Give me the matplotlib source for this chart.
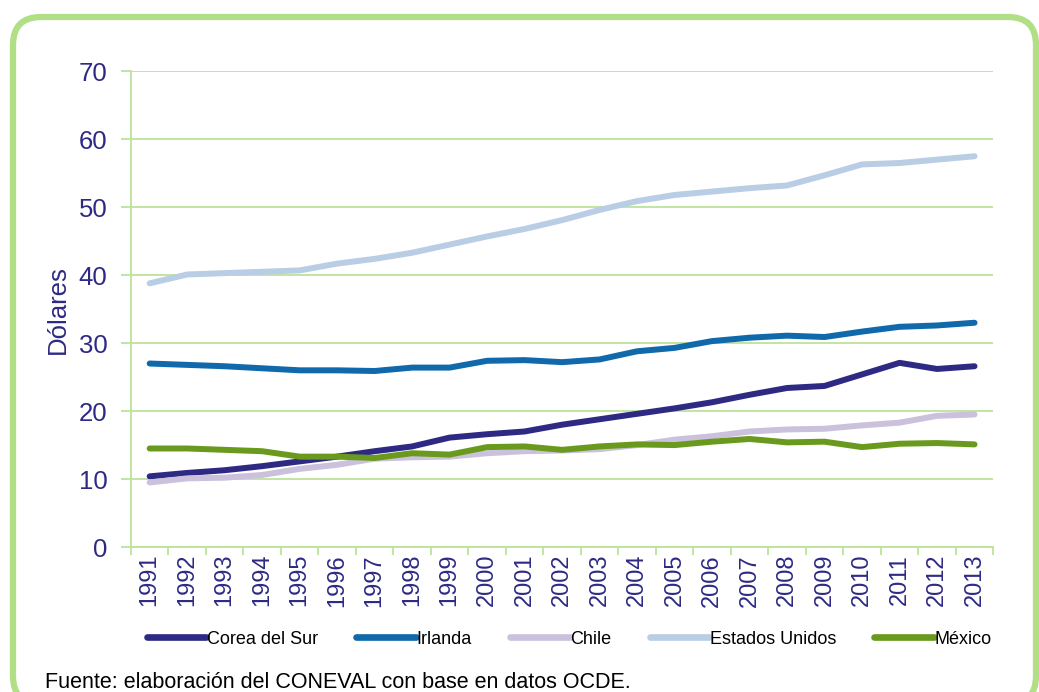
import matplotlib.pyplot as plt
import matplotlib.transforms as mtransforms
from matplotlib.patches import FancyBboxPatch
import numpy as np

# Datos (USD)
anios = [str(a) for a in range(1991, 2014)]

corea = [10.4, 10.9, 11.3, 11.9, 12.6, 13.3, 14.1, 14.8, 16.1, 16.6, 17.0, 18.0,
         18.8, 19.6, 20.4, 21.3, 22.4, 23.4, 23.7, 25.4, 27.1, 26.2, 26.6]
irlanda = [27.0, 26.8, 26.6, 26.3, 26.0, 26.0, 25.9, 26.4, 26.4, 27.4, 27.5, 27.2,
           27.6, 28.8, 29.3, 30.3, 30.8, 31.1, 30.9, 31.7, 32.4, 32.6, 33.0]
chile = [9.5, 10.1, 10.2, 10.6, 11.5, 12.1, 13.0, 13.2, 13.3, 13.8, 14.1, 14.2,
         14.4, 15.0, 15.8, 16.3, 17.0, 17.3, 17.4, 17.9, 18.3, 19.3, 19.5]
eeuu = [38.8, 40.1, 40.3, 40.5, 40.7, 41.7, 42.4, 43.3, 44.5, 45.7, 46.8, 48.1,
        49.6, 50.9, 51.8, 52.3, 52.8, 53.2, 54.7, 56.3, 56.5, 57.0, 57.5]
mexico = [14.5, 14.5, 14.3, 14.1, 13.3, 13.3, 13.1, 13.8, 13.6, 14.7, 14.8, 14.3,
          14.8, 15.1, 15.0, 15.5, 15.9, 15.4, 15.5, 14.7, 15.2, 15.3, 15.1]

series = [('Corea del Sur', corea, '#2E2A84'),
          ('Irlanda', irlanda, '#0F69AA'),
          ('Chile', chile, '#CBC1DD'),
          ('Estados Unidos', eeuu, '#B9CDE5'),
          ('México', mexico, '#6A9A1D')]

verde = '#BDE39B'
morado = '#2E2A84'

plt.rcParams['font.family'] = ['Liberation Sans', 'DejaVu Sans']

fig = plt.figure(figsize=(10.39, 6.92), dpi=100)
ax = fig.add_axes([0.126, 0.2095, 0.83, 0.6875])

x = np.arange(len(anios))
for nombre, valores, color in series:
    ax.plot(x, valores, color=color, linewidth=4.3, label=nombre,
            solid_capstyle='round', solid_joinstyle='round')

ax.set_xlim(-0.5, len(anios) - 0.5)
ax.set_ylim(0, 70)
ax.set_yticks(range(0, 71, 10))
ax.yaxis.grid(True, color=verde, linewidth=1.3)
ax.set_axisbelow(True)

ax.set_xticks(x)
ax.set_xticklabels(anios, rotation=90)
ax.set_xticks(np.arange(-0.5, len(anios), 1), minor=True)
ax.tick_params(axis='x', which='major', length=0, pad=5, labelsize=17, labelcolor=morado)
ax.tick_params(axis='x', which='minor', length=6, width=1.3, color=verde)
ax.tick_params(axis='y', length=7, width=1.3, color=verde, pad=10, labelsize=18.5, labelcolor=morado)

for lado in ['top', 'right']:
    ax.spines[lado].set_visible(False)
for lado in ['left', 'bottom']:
    ax.spines[lado].set_color(verde)
    ax.spines[lado].set_linewidth(1.3)

ax.set_ylabel('Dólares', fontsize=18.5, color=morado, labelpad=6)

leg = fig.legend(loc='center', bbox_to_anchor=(0.548, 0.0765), ncol=5, frameon=False,
                 fontsize=13, handlelength=3.3, handletextpad=0.05, columnspacing=2.1)
for linea in leg.get_lines():
    linea.set_linewidth(4.8)

# Marco redondeado
marco = FancyBboxPatch((13, -12), 1023, 687, boxstyle='round,pad=0,rounding_size=28',
                       transform=mtransforms.IdentityTransform(), facecolor='none',
                       edgecolor='#B1DF86', linewidth=4.5, zorder=-1)
fig.patches.append(marco)

fig.text(45 / 1039, 1 - 683 / 692, 'Fuente: elaboración del CONEVAL con base en datos OCDE.',
         fontsize=15.5, color='black', va='center', ha='left')

fig.savefig('out.png', dpi=100)
